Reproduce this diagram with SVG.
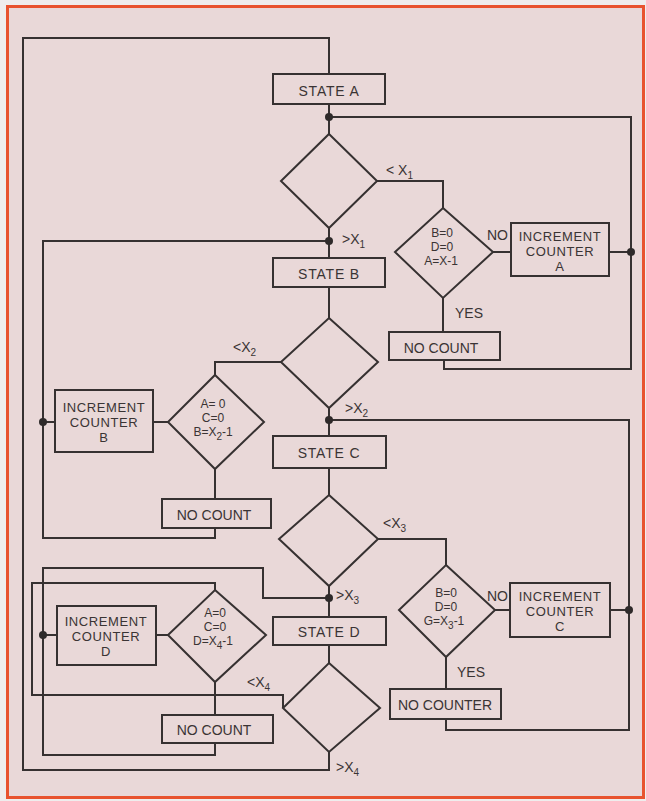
<svg xmlns="http://www.w3.org/2000/svg" width="646" height="801" viewBox="0 0 646 801">
<style>
.box{fill:none;stroke:#363131;stroke-width:2}
.ln{fill:none;stroke:#363131;stroke-width:2;stroke-linejoin:miter}
.dot{fill:#2e2a2a}
text{font-family:"Liberation Sans",Arial,sans-serif;fill:#3a3434;font-size:14px}
.c{text-anchor:middle}
.s{font-size:12px}
.m{font-size:13px;letter-spacing:0.6px}
.sub{font-size:10px}
</style>
<rect x="0" y="0" width="646" height="801" fill="#efeded"/>
<rect x="7.5" y="6.5" width="636" height="791" fill="#e9d8d8" stroke="#e8532f" stroke-width="3"/>

<g id="connectors">
<polyline class="ln" points="329,752 329,770 23,770 23,38 329,38 329,74"/>
<polyline class="ln" points="329,104 329,134"/>
<polyline class="ln" points="329,117 631,117 631,369 444,369 444,360"/>
<polyline class="ln" points="377,181 443,181 443,208"/>
<polyline class="ln" points="493,252 511,252"/>
<polyline class="ln" points="609,252 631,252"/>
<polyline class="ln" points="443,298 443,332"/>
<polyline class="ln" points="329,228 329,258"/>
<polyline class="ln" points="329,241 43,241 43,538 215,538 215,528"/>
<polyline class="ln" points="329,287 329,318"/>
<polyline class="ln" points="281,362 215,362 215,375"/>
<polyline class="ln" points="168,422 153,422"/>
<polyline class="ln" points="55,422 43,422"/>
<polyline class="ln" points="215,469 215,499"/>
<polyline class="ln" points="329,408 329,436"/>
<polyline class="ln" points="329,420 629,420 629,730 446,730 446,719"/>
<polyline class="ln" points="329,468 329,495"/>
<polyline class="ln" points="378,539 446,539 446,565"/>
<polyline class="ln" points="495,610 510,610"/>
<polyline class="ln" points="610,610 629,610"/>
<polyline class="ln" points="446,657 446,689"/>
<polyline class="ln" points="329,586 329,617"/>
<polyline class="ln" points="329,598 263,598 263,568 43,568 43,755 215,755 215,743"/>
<polyline class="ln" points="329,645 329,663"/>
<polyline class="ln" points="283,708 283,695 32,695 32,583 215,583 215,590"/>
<polyline class="ln" points="168,635 156,635"/>
<polyline class="ln" points="57,635 43,635"/>
<polyline class="ln" points="215,682 215,715"/>
<circle class="dot" cx="329" cy="117" r="4"/>
<circle class="dot" cx="631" cy="252" r="4"/>
<circle class="dot" cx="329" cy="241" r="4"/>
<circle class="dot" cx="43" cy="422" r="4"/>
<circle class="dot" cx="329" cy="420" r="4"/>
<circle class="dot" cx="629" cy="610" r="4"/>
<circle class="dot" cx="329" cy="598" r="4"/>
<circle class="dot" cx="43" cy="635" r="4"/>
<text x="386" y="175">&lt; X<tspan class="sub" dy="4">1</tspan></text>
<text x="342" y="244">&gt;X<tspan class="sub" dy="4">1</tspan></text>
<text x="487" y="240">NO</text>
<text x="455" y="318">YES</text>
<text x="233" y="352">&lt;X<tspan class="sub" dy="4">2</tspan></text>
<text x="345" y="413">&gt;X<tspan class="sub" dy="4">2</tspan></text>
<text x="383" y="528">&lt;X<tspan class="sub" dy="4">3</tspan></text>
<text x="336" y="600">&gt;X<tspan class="sub" dy="4">3</tspan></text>
<text x="487" y="601">NO</text>
<text x="457" y="677">YES</text>
<text x="247" y="687">&lt;X<tspan class="sub" dy="4">4</tspan></text>
<text x="336" y="772">&gt;X<tspan class="sub" dy="4">4</tspan></text>
</g>

<g id="state-a"><rect class="box" x="273" y="74" width="112" height="30"/><text class="c" x="329" y="96" letter-spacing="0.8">STATE A</text></g>
<g id="decision-a"><polygon class="box" points="329,134 377,181 329,228 281,181"/></g>
<g id="check-a"><polygon class="box" points="443,208 493,252 443,298 395,252"/>
<text class="c s" x="442" y="237">B=0</text><text class="c s" x="442" y="251">D=0</text><text class="c s" x="441" y="265">A=X-1</text></g>
<g id="increment-a"><rect class="box" x="511" y="223" width="98" height="53"/>
<text class="c m" x="560" y="241">INCREMENT</text><text class="c m" x="560" y="256">COUNTER</text><text class="c m" x="560" y="271">A</text></g>
<g id="nocount-a"><rect class="box" x="389" y="332" width="111" height="28"/><text class="c" x="441" y="353">NO COUNT</text></g>

<g id="state-b"><rect class="box" x="273" y="258" width="112" height="29"/><text class="c" x="329" y="279" letter-spacing="0.8">STATE B</text></g>
<g id="decision-b"><polygon class="box" points="329,318 378,362 329,408 281,362"/></g>
<g id="check-b"><polygon class="box" points="215,375 264,422 215,469 168,422"/>
<text class="c s" x="213" y="408">A= 0</text><text class="c s" x="213" y="422">C=0</text><text class="c s" x="213" y="436">B=X<tspan class="sub" dy="4">2</tspan><tspan dy="-4">-1</tspan></text></g>
<g id="increment-b"><rect class="box" x="55" y="390" width="98" height="62"/>
<text class="c m" x="104" y="412">INCREMENT</text><text class="c m" x="104" y="427">COUNTER</text><text class="c m" x="104" y="442">B</text></g>
<g id="nocount-b"><rect class="box" x="162" y="499" width="109" height="29"/><text class="c" x="214" y="520">NO COUNT</text></g>

<g id="state-c"><rect class="box" x="273" y="436" width="113" height="32"/><text class="c" x="329" y="458" letter-spacing="0.8">STATE C</text></g>
<g id="decision-c"><polygon class="box" points="329,495 378,539 329,586 279,539"/></g>
<g id="check-c"><polygon class="box" points="446,565 495,610 446,657 399,610"/>
<text class="c s" x="446" y="597">B=0</text><text class="c s" x="446" y="611">D=0</text><text class="c s" x="444" y="625">G=X<tspan class="sub" dy="4">3</tspan><tspan dy="-4">-1</tspan></text></g>
<g id="increment-c"><rect class="box" x="510" y="583" width="100" height="54"/>
<text class="c m" x="560" y="601">INCREMENT</text><text class="c m" x="560" y="616">COUNTER</text><text class="c m" x="560" y="631">C</text></g>
<g id="nocounter-c"><rect class="box" x="390" y="689" width="111" height="30"/><text class="c" x="445" y="710">NO COUNTER</text></g>

<g id="state-d"><rect class="box" x="273" y="617" width="113" height="28"/><text class="c" x="329" y="637" letter-spacing="0.8">STATE D</text></g>
<g id="decision-d"><polygon class="box" points="329,663 380,708 329,752 283,708"/></g>
<g id="check-d"><polygon class="box" points="215,590 266,635 215,682 168,635"/>
<text class="c s" x="215" y="617">A=0</text><text class="c s" x="215" y="631">C=0</text><text class="c s" x="213" y="645">D=X<tspan class="sub" dy="4">4</tspan><tspan dy="-4">-1</tspan></text></g>
<g id="increment-d"><rect class="box" x="57" y="606" width="99" height="59"/>
<text class="c m" x="106" y="626">INCREMENT</text><text class="c m" x="106" y="641">COUNTER</text><text class="c m" x="106" y="656">D</text></g>
<g id="nocount-d"><rect class="box" x="162" y="715" width="111" height="28"/><text class="c" x="214" y="735">NO COUNT</text></g>
</svg>
